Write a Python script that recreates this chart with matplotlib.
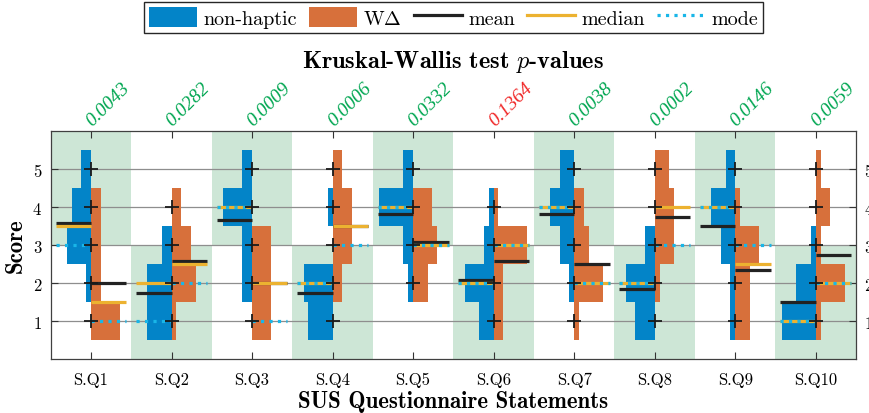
import numpy as np
import matplotlib
matplotlib.use('Agg')
from matplotlib import pyplot as plt
from matplotlib.patches import Patch, Rectangle
from matplotlib.lines import Line2D

# SUS statements and answer scale
questions = ['S.Q1', 'S.Q2', 'S.Q3', 'S.Q4', 'S.Q5',
             'S.Q6', 'S.Q7', 'S.Q8', 'S.Q9', 'S.Q10']
scores = [1, 2, 3, 4, 5]

# number of participants giving score 1..5
nonhaptic = [[0, 1, 5, 4, 2],
             [5, 5, 2, 0, 0],
             [0, 2, 2, 6, 2],
             [5, 6, 0, 1, 0],
             [0, 1, 2, 7, 2],
             [3, 6, 2, 1, 0],
             [0, 1, 3, 5, 3],
             [4, 6, 2, 0, 0],
             [1, 1, 3, 5, 2],
             [7, 4, 1, 0, 0]]
wdelta = [[6, 2, 2, 2, 0],
          [1, 5, 4, 2, 0],
          [4, 4, 4, 0, 0],
          [0, 2, 4, 4, 2],
          [0, 3, 5, 4, 0],
          [2, 2, 7, 1, 0],
          [1, 6, 3, 2, 0],
          [0, 1, 4, 4, 3],
          [3, 3, 5, 1, 0],
          [1, 6, 1, 3, 1]]

p_values = [0.0043, 0.0282, 0.0009, 0.0006, 0.0332,
            0.1364, 0.0038, 0.0002, 0.0146, 0.0059]

# which half of the column is the "good" answer region
good_half = ['top', 'bottom', 'top', 'bottom', 'top',
             'bottom', 'top', 'bottom', 'top', 'bottom']

blue = '#0384c8'
orange = '#d7703b'
green_bg = '#cde6d6'
c_mean = '#222222'
c_median = '#ecb230'
c_mode = '#19b6e8'

plt.rcParams['font.family'] = 'cmr10'
plt.rcParams['mathtext.fontset'] = 'cm'
plt.rcParams['axes.formatter.use_mathtext'] = True

fig = plt.figure(figsize=(8.7, 4.14), dpi=100)
ax = fig.add_axes([0.0583, 0.1304, 0.9256, 0.55])

k = 0.06       # x units per participant
half = 0.44    # length of stat lines

for i in range(len(questions)):
    c = i + 1
    y0 = 3 if good_half[i] == 'top' else 0
    ax.add_patch(Rectangle((c - 0.5, y0), 1, 3, facecolor=green_bg, lw=0, zorder=0.1))

    nh = np.array(nonhaptic[i])
    wd = np.array(wdelta[i])
    ax.barh(scores, nh * k, left=c - nh * k, height=1, color=blue, lw=0, zorder=1)
    ax.barh(scores, wd * k, left=c, height=1, color=orange, lw=0, zorder=1)

    for counts, x0, x1 in [(nh, c - half, c), (wd, c, c + half)]:
        raw = np.repeat(scores, counts)
        mean = raw.mean()
        med = np.median(raw)
        mode = scores[int(np.argmax(counts))]
        ax.plot([x0, x1], [mean, mean], color=c_mean, lw=2.3, solid_capstyle='butt', zorder=3)
        ax.plot([x0, x1], [med, med], color=c_median, lw=2.3, solid_capstyle='butt', zorder=3.1)
        ax.plot([x0, x1], [mode, mode], color=c_mode, lw=2.3, ls=':', dash_capstyle='butt', zorder=3.2)

    present = [s for s, a, b in zip(scores, nh, wd) if a + b > 0]
    ax.plot([c] * len(present), present, ls='none', marker='+', color='#1a1a1a',
            ms=9.5, mew=1.3, zorder=4)

    col = '#00a651' if p_values[i] < 0.05 else '#f02828'
    ax.text(c + 0.05, 6.06, '%.4f' % p_values[i], rotation=45, rotation_mode='anchor',
            ha='left', va='bottom', color=col, fontsize=14,
            family='Liberation Serif', style='italic')

ax.set_xlim(0.5, 10.5)
ax.set_ylim(0, 6)
ax.set_xticks(range(1, 11))
ax.set_xticklabels(questions)
ax.set_yticks(scores)
ax.yaxis.grid(True, color='#8e8e8e', lw=0.9)
ax.set_axisbelow(True)
ax.tick_params(direction='in', top=True, right=True, labelright=True,
               labelsize=12, length=5, color='#333333')
ax.tick_params(axis='x', pad=9)
ax.tick_params(axis='y', pad=6)
for sp in ax.spines.values():
    sp.set_color('#404040')
    sp.set_linewidth(0.9)

ax.set_xlabel('SUS Questionnaire Statements', family='cmb10', fontsize=16.5, labelpad=2)
ax.set_ylabel('Score', family='cmb10', fontsize=16.5, labelpad=4)

fig.text(0.521, 0.85, r'Kruskal-Wallis test $p$-values', family='cmb10',
         fontsize=17.5, ha='center', va='center')

handles = [Patch(facecolor=blue), Patch(facecolor=orange),
           Line2D([], [], color=c_mean, lw=2.3),
           Line2D([], [], color=c_median, lw=2.3),
           Line2D([], [], color=c_mode, lw=2.3, ls=':')]
labels = ['non-haptic', r'W$\Delta$', 'mean', 'median', 'mode']
fig.legend(handles, labels, loc='upper center', bbox_to_anchor=(0.521, 0.993), ncol=5,
           frameon=True, fancybox=False, edgecolor='#262626', framealpha=1,
           fontsize=14.5, handlelength=2.4, handleheight=1.15, columnspacing=0.6,
           handletextpad=0.3, borderpad=0.25, borderaxespad=0)

fig.savefig('out.png', dpi=100)
